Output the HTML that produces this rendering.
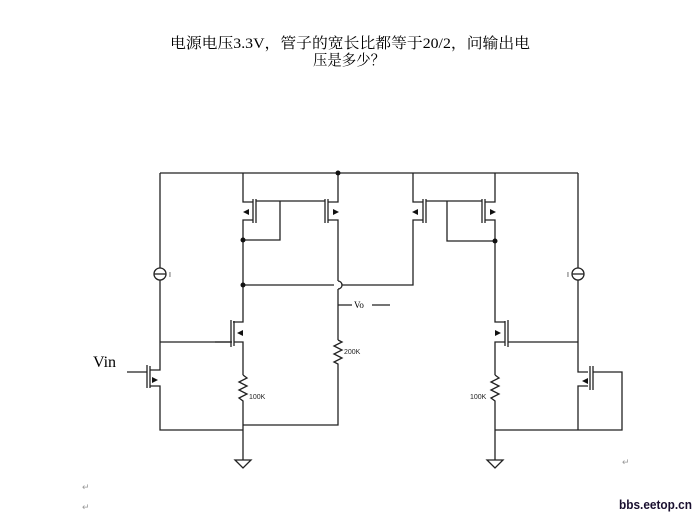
<!DOCTYPE html>
<html><head><meta charset="utf-8"><style>
html,body{margin:0;padding:0;background:#fff;width:696px;height:515px;overflow:hidden}
svg{display:block}
</style></head><body>
<svg width="696" height="515" viewBox="0 0 696 515" xmlns="http://www.w3.org/2000/svg">
<g font-family="'Liberation Serif','Noto Serif CJK SC',serif" font-size="15" fill="#000">
<text x="170" y="48" textLength="360" lengthAdjust="spacingAndGlyphs">电源电压3.3V，管子的宽长比都等于20/2，问输出电</text>
<text x="313" y="65" textLength="72" lengthAdjust="spacingAndGlyphs">压是多少？</text>
<text x="93" y="367" font-size="16">Vin</text>
</g>
<g stroke="#222" stroke-width="1.3" fill="none">
<path d="M160 173H578"/>
<path d="M160 173V268M160 280V370H150M160 342H232M150 386H160V430H243"/>
<circle cx="160" cy="274" r="6"/><path d="M154 274H166"/>
<path d="M147 365V388M150 366V388M127 372H147"/>
<path d="M243 173V202H253M253 220H243V322H233M253 199V223M256 199V223M256 201H325M280 201V240H243"/>
<path d="M338 173V202H328M328 220H338V281M338 289V340M328 199V223M325 199V223"/>
<path d="M338 281A4 4 0 0 1 338 289"/>
<path d="M338 305H352M372 305H390"/>
<path d="M338 340l4 2-8 4 8 4-8 4 8 4-8 4 4 2V425H243"/>
<path d="M243 285H334M342 285H413V220H423M413 173V202H423M423 199V223M426 199V223M426 201H482M447 201V241H495"/>
<path d="M231 320V347M234 321V346M215 342H231M234 342H243V375"/>
<path d="M243 375l4 3-8 4 8 4-8 4 8 4-8 4 4 3V460"/>
<path d="M235 460h16l-8 8z"/>
<path d="M495 173V202H485M485 220H495V322H505M485 199V223M482 199V223"/>
<path d="M508 320V347M505 321V346M508 342H578M505 342H495V375"/>
<path d="M495 375l4 3-8 4 8 4-8 4 8 4-8 4 4 3V460"/>
<path d="M487 460h16l-8 8z"/>
<path d="M495 430H622V372H593"/>
<path d="M578 173V268M578 280V372H588M588 386H578V430"/>
<circle cx="578" cy="274" r="6"/><path d="M572 274H584"/>
<path d="M590 366V390M593 366V390"/>
</g>
<g fill="#111">
<circle cx="338" cy="173" r="2.5"/><circle cx="243" cy="240" r="2.5"/><circle cx="243" cy="285" r="2.5"/><circle cx="495" cy="241" r="2.5"/>
<path d="M243 212l6-3v6z"/><path d="M339 212l-6-3v6z"/><path d="M412 212l6-3v6z"/><path d="M496 212l-6-3v6z"/>
<path d="M237 333l6-3v6z"/><path d="M158 380l-6-3v6z"/><path d="M501 333l-6-3v6z"/><path d="M582 381l6-3v6z"/>
</g>
<g font-family="'Liberation Sans',sans-serif" font-size="7" fill="#222">
<text x="169" y="277">I</text><text x="567" y="277">I</text>
<text x="344" y="354">200K</text><text x="249" y="399">100K</text><text x="470" y="399">100K</text>
</g>
<text x="354" y="308" font-family="'Liberation Serif',serif" font-size="9">Vo</text>
<g font-family="'Liberation Sans',sans-serif" font-size="9" fill="#999">
<text x="622" y="465">↵</text><text x="82" y="490">↵</text><text x="82" y="510">↵</text>
</g>
<text x="619" y="509" textLength="73" lengthAdjust="spacingAndGlyphs" font-family="'Liberation Sans',sans-serif" font-size="13" font-weight="bold" fill="#1a1030">bbs.eetop.cn</text>
</svg>
</body></html>
